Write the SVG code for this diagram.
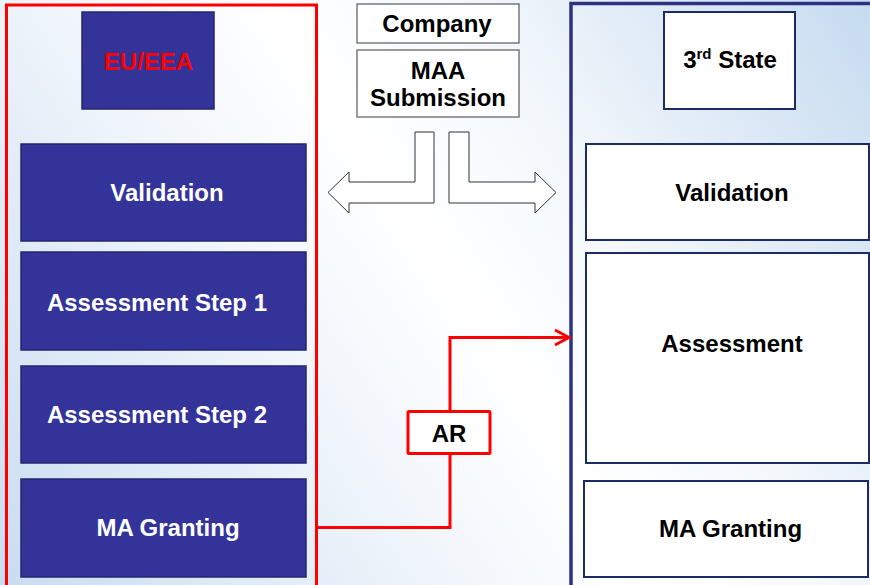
<svg xmlns="http://www.w3.org/2000/svg" width="870" height="585" viewBox="0 0 870 585">
  <defs>
    <linearGradient id="bg" gradientUnits="userSpaceOnUse" x1="870" y1="0" x2="0" y2="585">
      <stop offset="0" stop-color="#c6dbf0"/>
      <stop offset="0.33" stop-color="#f4f8fc"/>
      <stop offset="0.48" stop-color="#ffffff"/>
      <stop offset="0.62" stop-color="#f3f7fc"/>
      <stop offset="1" stop-color="#c9ddf1"/>
    </linearGradient>
    <marker id="chev" markerUnits="userSpaceOnUse" markerWidth="20" markerHeight="20" viewBox="0 0 20 20" refX="17" refY="10" orient="auto">
      <path d="M3,2.5 L17,10 L3,17.5" fill="none" stroke="#ff0000" stroke-width="3" stroke-linejoin="miter"/>
    </marker>
    <style>
      .lbl { font-family: "Liberation Sans", Arial, sans-serif; font-weight: bold; font-size: 24px; text-anchor: middle; }
      .w { fill: #ffffff; }
      .k { fill: #000000; }
      .eu { fill: #333399; stroke: #262670; stroke-width: 1.5; }
      .ts { fill: #ffffff; stroke: #1c2b66; stroke-width: 2; }
      .co { fill: #ffffff; stroke: #5a5a5a; stroke-width: 1.2; }
      .fat { fill: #ffffff; stroke: #333333; stroke-width: 1; stroke-linejoin: miter; }
    </style>
  </defs>

  <rect x="0" y="0" width="870" height="585" fill="url(#bg)"/>

  <!-- EU/EEA column -->
  <g id="eu-frame">
    <rect x="6.5" y="5" width="310" height="590" fill="none" stroke="#ff0000" stroke-width="3"/>
  </g>
  <g id="eu-title">
    <rect class="eu" x="82" y="12" width="132" height="97"/>
    <text class="lbl" x="148.5" y="70" fill="#ff0000">EU/EEA</text>
  </g>
  <g id="eu-validation">
    <rect class="eu" x="21" y="144" width="285" height="97"/>
    <text class="lbl w" x="167" y="201">Validation</text>
  </g>
  <g id="eu-assessment-1">
    <rect class="eu" x="21" y="252" width="285" height="98"/>
    <text class="lbl w" x="157" y="311">Assessment Step 1</text>
  </g>
  <g id="eu-assessment-2">
    <rect class="eu" x="21" y="366" width="285" height="97"/>
    <text class="lbl w" x="157" y="423">Assessment Step 2</text>
  </g>
  <g id="eu-granting">
    <rect class="eu" x="21" y="479" width="285" height="98"/>
    <text class="lbl w" x="168" y="536">MA Granting</text>
  </g>

  <!-- Company submission -->
  <g id="company">
    <rect class="co" x="357" y="4" width="162" height="39"/>
    <text class="lbl k" x="437" y="32">Company</text>
  </g>
  <g id="maa-submission">
    <rect class="co" x="357" y="50" width="162" height="67"/>
    <text class="lbl k" x="438" y="79">MAA</text>
    <text class="lbl k" x="438" y="106">Submission</text>
  </g>

  <!-- Third state column -->
  <g id="third-frame">
    <rect x="571" y="3.5" width="310" height="590" fill="none" stroke="#2e3080" stroke-width="3.5"/>
  </g>
  <g id="third-title">
    <rect class="ts" x="664" y="12" width="131" height="97"/>
    <text class="lbl k" x="730" y="68"><tspan>3</tspan><tspan font-size="15" dy="-9">rd</tspan><tspan dy="9"> State</tspan></text>
  </g>
  <g id="third-validation">
    <rect class="ts" x="586" y="144" width="283" height="96"/>
    <text class="lbl k" x="732" y="201">Validation</text>
  </g>
  <g id="third-assessment">
    <rect class="ts" x="586" y="253" width="283" height="210"/>
    <text class="lbl k" x="732" y="352">Assessment</text>
  </g>
  <g id="third-granting">
    <rect class="ts" x="584" y="481" width="284" height="96"/>
    <text class="lbl k" x="730.5" y="537">MA Granting</text>
  </g>

  <!-- connectors -->
  <g id="connectors">
    <polygon class="fat" points="415,132 434,132 434,203 349,203 349,213 328,192.5 349,172 349,182 415,182"/>
    <polygon class="fat" points="449,132 469,132 469,182 535,182 535,172 556,192.5 535,213 535,203 449,203"/>
    <path d="M317,527.5 H450 V337.5 H569" fill="none" stroke="#ff0000" stroke-width="3" marker-end="url(#chev)"/>
  </g>

  <g id="ar">
    <rect x="408" y="411.5" width="82" height="42" rx="1" fill="#ffffff" stroke="#ff0000" stroke-width="3"/>
    <text class="lbl k" x="449" y="442">AR</text>
  </g>
</svg>
